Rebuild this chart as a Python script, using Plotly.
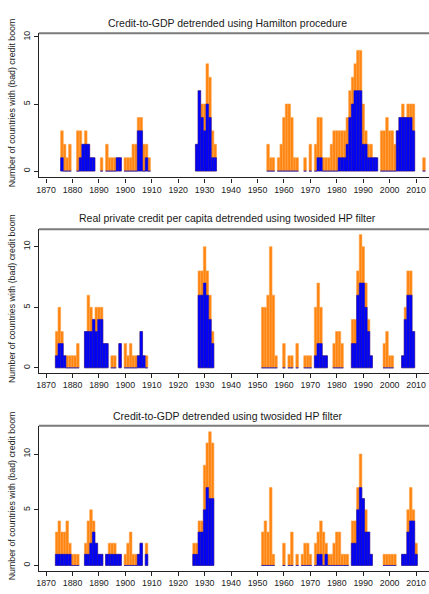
import plotly.graph_objects as go

# ---------------- data (years, all credit booms, bad credit booms) ----------------
years_ham = [1876, 1877, 1878, 1879, 1882, 1883, 1884, 1885, 1886, 1887, 1888, 1891,
             1893, 1894, 1895, 1896, 1897, 1898, 1900, 1901, 1902, 1903, 1904, 1905,
             1906, 1907, 1908, 1909, 1927, 1928, 1929, 1930, 1931, 1932, 1933, 1934,
             1954, 1955, 1956, 1958, 1959, 1960, 1961, 1962, 1963, 1964, 1965, 1968,
             1970, 1972, 1973, 1974, 1975, 1976, 1977, 1978, 1979, 1980, 1981, 1982,
             1983, 1984, 1985, 1986, 1987, 1988, 1989, 1990, 1991, 1992, 1993, 1994,
             1995, 1997, 1998, 1999, 2000, 2001, 2002, 2003, 2004, 2005, 2006, 2007,
             2008, 2009, 2013]
all_ham = [3, 2, 1, 2, 3, 3, 2, 3, 2, 1, 1, 1,
           2, 1, 1, 1, 1, 1, 1, 1, 1, 2, 2, 4,
           4, 2, 2, 1, 2, 6, 5, 5, 8, 7, 3, 2,
           2, 1, 1, 1, 2, 4, 5, 5, 4, 1, 1, 1,
           2, 2, 4, 4, 1, 1, 1, 2, 3, 3, 3, 3,
           3, 4, 6, 7, 8, 9, 9, 5, 3, 2, 2, 1,
           1, 3, 3, 4, 3, 3, 2, 3, 4, 5, 4, 5,
           5, 5, 1]
bad_ham = [1, 0, 0, 0, 0, 1, 2, 2, 2, 1, 1, 0,
           0, 0, 0, 0, 1, 1, 0, 0, 0, 0, 0, 3,
           3, 0, 1, 0, 2, 6, 4, 3, 5, 4, 1, 1,
           0, 0, 0, 0, 0, 0, 0, 0, 0, 0, 0, 0,
           0, 0, 1, 1, 0, 0, 0, 0, 0, 0, 1, 1,
           1, 2, 4, 5, 6, 6, 6, 2, 2, 1, 1, 1,
           1, 0, 0, 0, 0, 0, 0, 3, 4, 4, 4, 4,
           4, 3, 0]

years_rpc = [1874, 1875, 1876, 1877, 1878, 1879, 1880, 1881, 1882, 1885, 1886, 1887,
             1888, 1889, 1890, 1891, 1892, 1893, 1895, 1896, 1898, 1900, 1901, 1902,
             1903, 1904, 1905, 1906, 1907, 1908, 1928, 1929, 1930, 1931, 1932, 1933,
             1952, 1953, 1954, 1955, 1956, 1957, 1960, 1962, 1963, 1965, 1968, 1969,
             1970, 1972, 1973, 1974, 1975, 1976, 1979, 1980, 1981, 1982, 1986, 1987,
             1988, 1989, 1990, 1991, 1992, 1993, 1998, 1999, 2000, 2001, 2005, 2006,
             2007, 2008, 2009]
all_rpc = [3, 5, 3, 1, 1, 1, 1, 1, 2, 3, 6, 5,
           4, 5, 5, 5, 2, 2, 1, 1, 2, 2, 1, 2,
           1, 1, 1, 3, 1, 1, 8, 8, 10, 8, 6, 3,
           5, 5, 6, 10, 6, 1, 2, 1, 1, 2, 1, 1,
           1, 5, 7, 5, 1, 1, 2, 3, 3, 2, 4, 4,
           8, 11, 10, 7, 4, 1, 2, 3, 1, 1, 1, 5,
           8, 8, 3]
bad_rpc = [1, 2, 2, 1, 0, 0, 0, 0, 0, 3, 3, 3,
           4, 3, 4, 4, 2, 2, 0, 0, 2, 0, 0, 0,
           0, 0, 1, 3, 1, 0, 6, 6, 7, 6, 4, 2,
           0, 0, 0, 0, 0, 0, 0, 0, 0, 0, 0, 0,
           0, 1, 2, 2, 1, 1, 0, 0, 0, 0, 2, 2,
           6, 7, 7, 5, 3, 1, 0, 0, 0, 0, 1, 4,
           6, 6, 3]

years_hp = [1874, 1875, 1876, 1877, 1878, 1879, 1880, 1881, 1882, 1885, 1886, 1887,
            1888, 1889, 1890, 1891, 1893, 1894, 1895, 1896, 1897, 1898, 1900, 1901,
            1902, 1903, 1904, 1905, 1906, 1908, 1926, 1927, 1928, 1929, 1930, 1931,
            1932, 1933, 1952, 1953, 1954, 1955, 1956, 1960, 1962, 1963, 1965, 1967,
            1968, 1969, 1970, 1972, 1973, 1974, 1975, 1976, 1977, 1978, 1979, 1980,
            1981, 1982, 1983, 1984, 1986, 1987, 1988, 1989, 1990, 1991, 1992, 1993,
            1998, 1999, 2000, 2001, 2002, 2005, 2006, 2007, 2008, 2009, 2010]
all_hp = [3, 4, 3, 3, 4, 2, 1, 1, 1, 2, 4, 5,
          4, 2, 1, 1, 1, 2, 2, 2, 1, 1, 1, 2,
          3, 1, 1, 1, 2, 2, 2, 2, 4, 4, 9, 11,
          12, 11, 3, 4, 3, 7, 1, 2, 1, 3, 1, 1,
          2, 2, 1, 2, 3, 4, 3, 2, 1, 1, 2, 3,
          3, 1, 1, 1, 4, 4, 7, 10, 6, 5, 3, 1,
          1, 1, 1, 1, 1, 1, 1, 5, 7, 5, 2]
bad_hp = [1, 1, 1, 1, 1, 1, 0, 0, 0, 1, 1, 2,
          3, 2, 1, 1, 1, 1, 1, 1, 1, 1, 0, 0,
          0, 0, 0, 1, 2, 1, 1, 1, 3, 3, 5, 7,
          6, 6, 0, 0, 0, 0, 0, 0, 0, 0, 0, 0,
          0, 0, 0, 0, 1, 1, 0, 1, 0, 0, 0, 0,
          0, 0, 0, 0, 2, 2, 5, 7, 6, 3, 3, 1,
          0, 0, 0, 0, 0, 1, 1, 3, 4, 4, 1]

titles = ["Credit-to-GDP detrended using Hamilton procedure",
          "Real private credit per capita detrended using twosided HP filter",
          "Credit-to-GDP detrended using twosided HP filter"]
ytitle = "Number of countries with (bad) credit boom"
xticks = list(range(1870, 2011, 10))
yticks = [0, 5, 10]

ORANGE = "#FF8410"
BLUE = "#0000FF"

panels = [(years_ham, all_ham, bad_ham), (years_rpc, all_rpc, bad_rpc), (years_hp, all_hp, bad_hp)]

# pixel geometry (figure 429 x 594)
W, H = 429, 594
px_left = 37
panel_px = [(30.5, 175.3), (227.5, 371.7), (425, 570.7)]   # top, bottom of plot regions
y_ranges = [[-0.47, 10.27], [-0.41, 11.43], [-0.48, 12.53]]
title_y = [20.5, 216.5, 415]

fig = go.Figure()
for i, (yrs, a, b) in enumerate(panels):
    sx = "" if i == 0 else str(i + 1)
    fig.add_trace(go.Bar(x=yrs, y=a, width=1, xaxis="x" + sx, yaxis="y" + sx,
                         marker=dict(color=ORANGE, line=dict(color="#FFA54A", width=0.6)),
                         hoverinfo="x+y"))
    fig.add_trace(go.Bar(x=yrs, y=b, width=1, xaxis="x" + sx, yaxis="y" + sx,
                         marker=dict(color=BLUE, line=dict(color="#1414B4", width=0.6)),
                         hoverinfo="x+y"))

layout = dict(width=W, height=H, margin=dict(l=0, r=0, t=0, b=0),
              paper_bgcolor="white", plot_bgcolor="white", barmode="overlay",
              showlegend=False,
              font=dict(family="Liberation Sans, Arial, sans-serif", color="#1a1a1a"))
shapes = []
annotations = []
for i in range(3):
    sx = "" if i == 0 else str(i + 1)
    top, bot = panel_px[i]
    dom_y = [(H - bot) / H, (H - top) / H]
    layout["xaxis" + sx] = dict(domain=[px_left / W, 1.0], range=[1867.25, 2014.9],
                                anchor="y" + sx, tickvals=xticks, ticks="outside",
                                ticklen=4, tickwidth=1, tickcolor="#222",
                                showline=True, linecolor="#222", linewidth=1.2,
                                showgrid=False, zeroline=False,
                                tickfont=dict(size=8.8, color="#222"), fixedrange=True)
    layout["yaxis" + sx] = dict(domain=dom_y, range=y_ranges[i], anchor="x" + sx,
                                tickvals=yticks, ticks="outside", ticklen=4, tickwidth=1,
                                tickcolor="#222", tickangle=-90,
                                showline=True, linecolor="#222", linewidth=1.2,
                                showgrid=False, zeroline=False,
                                tickfont=dict(size=8.8, color="#222"), fixedrange=True)
    shapes.append(dict(type="line", xref="paper", yref="paper",
                       x0=px_left / W, x1=1.0, y0=dom_y[1], y1=dom_y[1],
                       line=dict(color="#7a7a7a", width=2)))
    annotations.append(dict(text=titles[i], xref="paper", yref="paper",
                            x=227 / W, y=1 - title_y[i] / H,
                            xanchor="center", yanchor="middle", showarrow=False,
                            font=dict(size=10.5, color="#1a1a1a")))
    annotations.append(dict(text=ytitle, xref="paper", yref="paper",
                            x=10 / W, y=1 - (top + bot - 6) / 2 / H, textangle=-90,
                            xanchor="center", yanchor="middle", showarrow=False,
                            font=dict(size=8.8, color="#1a1a1a")))
layout["shapes"] = shapes
layout["annotations"] = annotations
fig.update_layout(**layout)
fig.write_html("out.html",
               config={"displayModeBar": False, "staticPlot": False},
               post_script="document.body.style.margin='0px';document.body.style.padding='0px';document.body.style.overflow='hidden';")
